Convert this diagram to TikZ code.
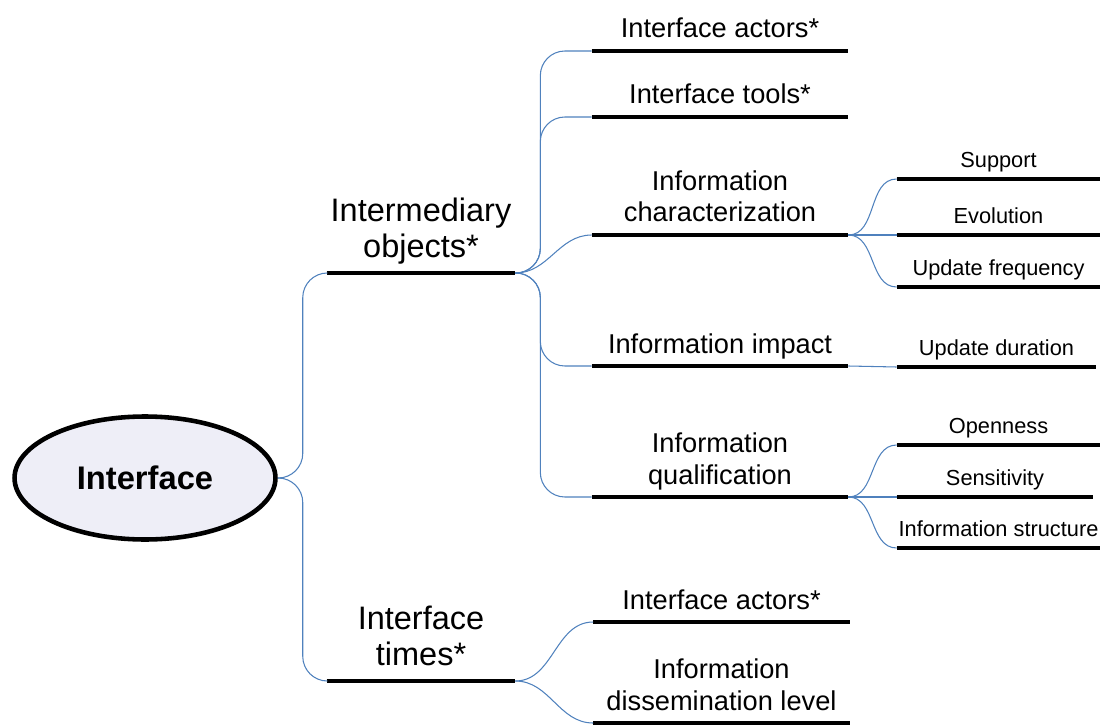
\documentclass[tikz,border=0pt]{standalone}
\usepackage{fontspec}
\setmainfont{Liberation Sans}
\usepackage{xcolor}
\usepackage{tikz}
\usetikzlibrary{positioning,calc,shapes.geometric}
\definecolor{linkblue}{RGB}{79,129,189}
\definecolor{rootfill}{RGB}{238,238,247}

\begin{document}
\begin{tikzpicture}[
    x=0.02cm, y=-0.02cm,
    root/.style={ellipse, draw, line width=2.6pt, fill=rootfill, minimum width=5.22cm, minimum height=2.46cm, font=\fontsize{18.6}{22}\selectfont\bfseries},
    topic/.style={anchor=south, align=center, inner xsep=0pt, text depth=0pt, minimum width=#1},
    major/.style={topic=3.76cm, inner ysep=8.5pt, font=\fontsize{18.5}{20.4}\selectfont},
    minor/.style={topic=5.12cm, inner ysep=7.2pt, font=\fontsize{15.5}{18.1}\selectfont},
    detail/.style={topic=4.06cm, inner ysep=6.2pt, font=\fontsize{12.4}{14}\selectfont},
    bar/.style={line width=2.2pt},
    link/.style={draw=linkblue, line width=0.6pt},
    trunk/.style={link, rounded corners=14pt, to path={-- ([xshift=#1]\tikztostart) |- (\tikztotarget)}},
    twig/.style={link, out=0, in=180}
]
\useasboundingbox (0,0) rectangle (1101,726);

% central topic
\node[root] (iface) at (145,478) {Interface};

% main branches
\node[major] (objects) at (421,273) {Intermediary\\objects*};
\node[major] (times) at (421,681) {Interface\\times*};

% intermediary objects
\node[minor] (actors) at (720,51) {Interface actors*};
\node[minor] (tools) at (720,117) {Interface tools*};
\node[minor] (charact) at (720,235) {Information\\characterization};
\node[minor] (impact) at (720,366) {Information impact};
\node[minor] (qualif) at (720,497) {Information\\qualification};

% interface times
\node[minor] (tactors) at (721.5,622) {Interface actors*};
\node[minor] (dissem) at (721.5,723) {Information\\dissemination level};

% details
\node[detail] (support) at (998.5,179) {Support};
\node[detail] (evolution) at (998.5,235) {Evolution};
\node[detail] (frequency) at (998.5,287) {Update frequency};
\node[detail, minimum width=3.98cm] (duration) at (996.5,367) {Update duration};
\node[detail] (openness) at (998.5,445) {Openness};
\node[detail, minimum width=3.92cm] (sensitiv) at (995,497) {Sensitivity};
\node[detail] (structure) at (998.5,548) {Information structure};

% underlines
\foreach \n in {objects,times,actors,tools,charact,impact,qualif,tactors,dissem,
                support,evolution,frequency,duration,openness,sensitiv,structure}
    \draw[bar] (\n.south west) -- (\n.south east);

% connectors
\draw[trunk=0.5cm] (iface.east) to (objects.south west);
\draw[trunk=0.5cm] (iface.east) to (times.south west);

\draw[trunk=0.5cm] (objects.south east) to (actors.south west);
\draw[trunk=0.5cm] (objects.south east) to (tools.south west);
\draw[twig] (objects.south east) to (charact.south west);
\draw[trunk=0.5cm] (objects.south east) to (impact.south west);
\draw[trunk=0.5cm] (objects.south east) to (qualif.south west);

\draw[twig] (times.south east) to (tactors.south west);
\draw[twig] (times.south east) to (dissem.south west);

\draw[twig] (charact.south east) to (support.south west);
\draw[twig] (charact.south east) to (evolution.south west);
\draw[twig] (charact.south east) to (frequency.south west);
\draw[link] (impact.south east) -- (duration.south west);
\draw[twig] (qualif.south east) to (openness.south west);
\draw[twig] (qualif.south east) to (sensitiv.south west);
\draw[twig] (qualif.south east) to (structure.south west);

\end{tikzpicture}
\end{document}
